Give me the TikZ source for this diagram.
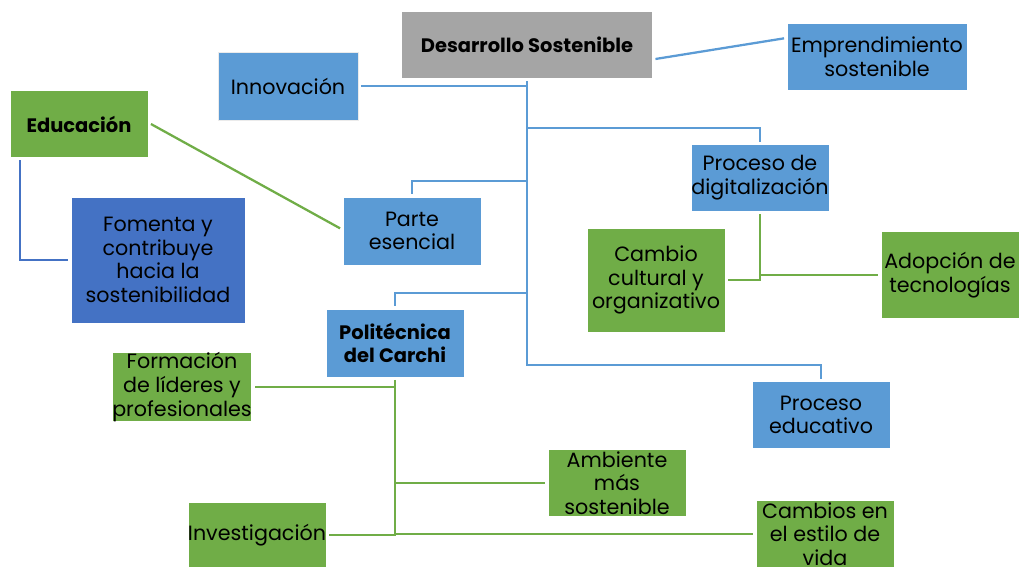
\documentclass[tikz,border=0pt]{standalone}
\usepackage{fontspec}
\setmainfont{Poppins}
\definecolor{azul}{HTML}{5B9BD5}
\definecolor{azulosc}{HTML}{4472C4}
\definecolor{verde}{HTML}{70AD47}
\definecolor{gris}{HTML}{A5A5A5}
\begin{document}
\begin{tikzpicture}[x=0.75pt,y=-0.75pt,
  caja/.style={draw=white,line width=0.5pt,inner sep=0pt,outer sep=2.2pt,align=center,
    minimum width=103.5pt,minimum height=50.25pt,font=\fontsize{15.5}{17.8}\selectfont},
  cazul/.style={caja,fill=azul},
  cverde/.style={caja,fill=verde},
  negrita/.style={font=\fontsize{14.6}{17.8}\selectfont\bfseries},
  lazul/.style={draw=azul,line width=1.7pt},
  lverde/.style={draw=verde,line width=1.7pt}]
\useasboundingbox (0,0) rectangle (1021,567);
% cajas
\node[caja,fill=gris,minimum width=188.25pt,negrita] (ds) at (527,45) {Desarrollo Sostenible};
\node[cazul,minimum width=105pt,minimum height=51pt,draw=black!8] (innov) at (288,86) {Innovaci\'on};
\node[cazul,minimum width=135pt] (empr) at (877,57) {Emprendimiento\\sostenible};
\node[cverde,negrita] (edu) at (79,124) {Educaci\'on};
\node[caja,fill=azulosc,minimum width=130.5pt,minimum height=94.5pt] (fom) at (158,260) {Fomenta y\\contribuye\\hacia la\\sostenibilidad};
\node[cazul,minimum height=51pt] (parte) at (412,231) {Parte\\esencial};
\node[cazul] (pdig) at (760,178) {Proceso de\\digitalizaci\'on};
\node[cverde,minimum height=78pt] (cambio) at (656,280) {Cambio\\cultural y\\organizativo};
\node[cverde,minimum height=65.25pt] (adop) at (950,275) {Adopci\'on de\\tecnolog\'ias};
\node[cazul,minimum height=51pt,negrita] (poli) at (395,343) {Polit\'ecnica\\del Carchi};
\node[cverde,minimum height=51pt] (form) at (182,387) {Formaci\'on\\de l\'ideres y\\profesionales};
\node[cazul] (peduc) at (821,415) {Proceso\\educativo};
\node[cverde] (amb) at (617,483) {Ambiente\\m\'as\\sostenible};
\node[cverde,minimum height=48.75pt] (inv) at (257,535) {Investigaci\'on};
\node[cverde] (camb) at (825,534) {Cambios en\\el estilo de\\vida};
% ramas de Desarrollo Sostenible
\coordinate (b1) at (527,128); \coordinate (b2) at (527,181);
\coordinate (b3) at (527,293); \coordinate (b4) at (527,365);
\draw[lazul] ([yshift=-10.5pt]ds.east) -- ([yshift=14pt]empr.west);
\draw[lazul] (ds.south) -- (b4) -| (peduc.north);
\draw[lazul] (innov.east) -- (innov.east -| ds.south);
\draw[lazul] (b1) -| (pdig.north);
\draw[lazul] (b2) -| (parte.north);
\draw[lazul] (b3) -| (poli.north);
% Educacion
\draw[lverde] (edu.east) -- ([yshift=2pt]parte.west);
\draw[draw=azulosc,line width=1.7pt] ([xshift=9.75pt]edu.south west) |- (fom.west);
% digitalizacion
\draw[lverde] (pdig.south) |- (cambio.east);
\draw[lverde] (pdig.south |- adop.west) -- (adop.west);
% Politecnica
\draw[lverde] (poli.south) |- (inv.east);
\draw[lverde] (poli.south |- form.east) -- (form.east);
\draw[lverde] (poli.south |- amb.west) -- (amb.west);
\draw[lverde] (poli.south |- camb.west) -- (camb.west);
\end{tikzpicture}
\end{document}
